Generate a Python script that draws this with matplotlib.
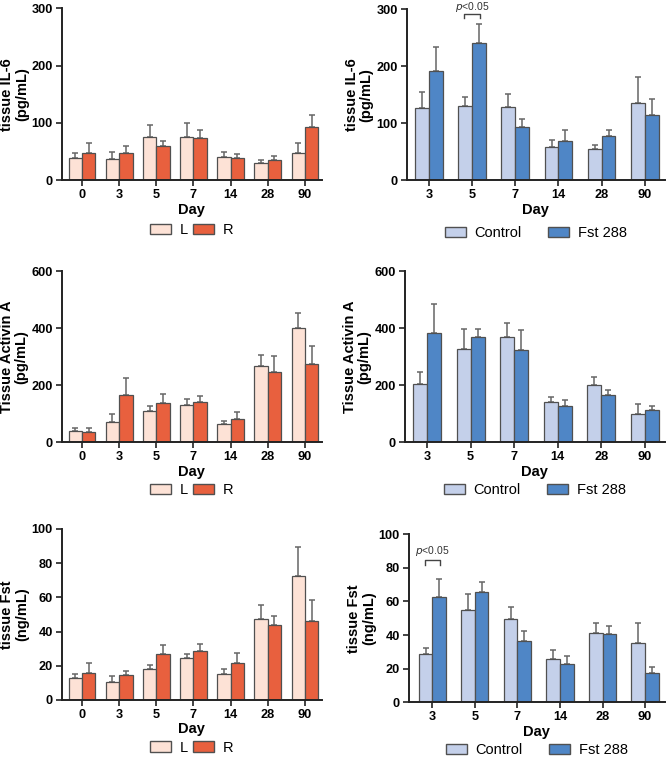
import numpy as np
import matplotlib
matplotlib.use("Agg")
from matplotlib import pyplot as plt
from matplotlib.patches import Patch

plt.rcParams['font.family'] = ['Liberation Sans', 'DejaVu Sans']

days_lr = ['0', '3', '5', '7', '14', '28', '90']
days_cf = ['3', '5', '7', '14', '28', '90']

# tissue IL-6, left/right
il6_l = [38, 37, 76, 75, 41, 30, 48]
il6_l_top = [48, 49, 97, 100, 49, 36, 64]
il6_r = [47, 47, 59, 73, 38, 35, 93]
il6_r_top = [64, 60, 68, 87, 45, 42, 113]

# tissue IL-6, control/Fst 288
il6_c = [126, 130, 129, 58, 55, 136]
il6_c_top = [155, 145, 151, 70, 62, 181]
il6_f = [192, 241, 94, 68, 78, 115]
il6_f_top = [233, 274, 108, 88, 88, 143]

# tissue activin A, left/right
act_l = [40, 73, 111, 130, 63, 268, 401]
act_l_top = [49, 100, 128, 152, 76, 305, 453]
act_r = [37, 167, 139, 140, 81, 248, 274]
act_r_top = [52, 225, 170, 161, 105, 303, 337]

# tissue activin A, control/Fst 288
act_c = [205, 327, 369, 140, 200, 100]
act_c_top = [245, 396, 417, 160, 228, 134]
act_f = [383, 369, 325, 127, 165, 113]
act_f_top = [486, 398, 393, 150, 183, 129]

# tissue Fst, left/right
fst_l = [12.9, 10.7, 18.3, 24.6, 15.0, 47.6, 72.7]
fst_l_top = [15.0, 14.0, 20.5, 27.1, 18.3, 55.6, 89.7]
fst_r = [15.6, 14.8, 26.7, 28.5, 21.4, 44.0, 46.4]
fst_r_top = [21.8, 16.8, 32.0, 32.7, 27.3, 49.3, 58.5]

# tissue Fst, control/Fst 288
fst_c = [28.8, 54.7, 49.3, 25.8, 41.0, 35.2]
fst_c_top = [32.0, 64.6, 56.9, 31.4, 47.3, 46.9]
fst_f = [62.8, 65.6, 36.6, 22.9, 40.6, 17.3]
fst_f_top = [73.6, 71.4, 42.5, 27.4, 45.3, 20.9]

col_l, col_r = '#fde2d6', '#e8603e'
col_c, col_f = '#c4d0ea', '#4f86c6'
edge = '#505050'


def panel(rect, days, a, a_top, b, b_top, colors, names, ylabel, ymax, step,
          width, xlim, legend_gap, legend_y):
    ax = fig.add_axes(rect)
    x = np.arange(len(days))
    for vals, tops, offs, c in [(a, a_top, -width / 2, colors[0]),
                                (b, b_top, width / 2, colors[1])]:
        vals = np.array(vals)
        err = np.array(tops) - vals
        ax.bar(x + offs, vals, width, color=c, edgecolor=edge, linewidth=0.9,
               zorder=2)
        ax.errorbar(x + offs, vals, yerr=[np.zeros_like(err), err], fmt='none',
                    ecolor='#666666', elinewidth=1.1, capsize=2.5,
                    capthick=1.1, zorder=1)
    ax.set_xlim(*xlim)
    ax.set_ylim(0, ymax)
    ax.set_yticks(np.arange(0, ymax + 1, step))
    ax.set_xticks(x)
    ax.set_xticklabels(days)
    for s in ['top', 'right']:
        ax.spines[s].set_visible(False)
    for s in ['left', 'bottom']:
        ax.spines[s].set_linewidth(1.4)
        ax.spines[s].set_color('#222222')
    ax.tick_params(axis='both', direction='out', length=4, width=1.2,
                   labelsize=9.2, color='#222222', pad=2.5)
    for t in ax.get_xticklabels() + ax.get_yticklabels():
        t.set_fontweight('bold')
    ax.set_xlabel('Day', fontsize=10.5, fontweight='bold', labelpad=1)
    ax.set_ylabel(ylabel, fontsize=10.5, fontweight='bold', labelpad=2,
                  linespacing=1.05)
    handles = [Patch(facecolor=colors[0], edgecolor=edge),
               Patch(facecolor=colors[1], edgecolor=edge)]
    ax.legend(handles, names, loc='center', bbox_to_anchor=(0.5, legend_y),
              ncol=2, frameon=False, fontsize=10.5, handlelength=1.45,
              handleheight=0.75, handletextpad=0.6, columnspacing=legend_gap)
    return ax


fig = plt.figure(figsize=(6.66, 7.6), dpi=100)

lr_xlim = (-0.54, 6.45)
ax1 = panel([0.093, 0.763, 0.390, 0.226], days_lr, il6_l, il6_l_top, il6_r,
            il6_r_top, (col_l, col_r), ['L', 'R'], 'tissue IL-6\n(pg/mL)',
            300, 100, 0.36, lr_xlim, 0.3, -0.29)
ax2 = panel([0.611, 0.763, 0.387, 0.225], days_cf, il6_c, il6_c_top, il6_f,
            il6_f_top, (col_c, col_f), ['Control', 'Fst 288'],
            'tissue IL-6\n(pg/mL)', 300, 100, 0.32, (-0.51, 5.46), 1.8, -0.31)
ax3 = panel([0.093, 0.418, 0.390, 0.225], days_lr, act_l, act_l_top, act_r,
            act_r_top, (col_l, col_r), ['L', 'R'],
            'Tissue Activin A\n(pg/mL)', 600, 200, 0.36, lr_xlim, 0.3, -0.28)
ax4 = panel([0.608, 0.418, 0.390, 0.225], days_cf, act_c, act_c_top, act_f,
            act_f_top, (col_c, col_f), ['Control', 'Fst 288'],
            'Tissue Activin A\n(pg/mL)', 600, 200, 0.32, (-0.51, 5.46), 1.8,
            -0.28)
ax5 = panel([0.093, 0.079, 0.390, 0.225], days_lr, fst_l, fst_l_top, fst_r,
            fst_r_top, (col_l, col_r), ['L', 'R'], 'tissue Fst\n(ng/mL)',
            100, 20, 0.36, lr_xlim, 0.3, -0.28)
ax6 = panel([0.614, 0.076, 0.384, 0.221], days_cf, fst_c, fst_c_top, fst_f,
            fst_f_top, (col_c, col_f), ['Control', 'Fst 288'],
            'tissue Fst\n(ng/mL)', 100, 20, 0.32, (-0.55, 5.46), 1.8, -0.285)


def bracket(ax, xc, w, y0, y1, ytext):
    ax.plot([xc - w / 2, xc - w / 2, xc + w / 2, xc + w / 2],
            [y0, y1, y1, y0], color='#444444', lw=1.0, clip_on=False)
    ax.text(xc, ytext, '$\\it{p}$<0.05', ha='center', va='baseline',
            fontsize=7.5, color='#333333', clip_on=False)


bracket(ax2, 1, 0.36, 284, 291, 299)
bracket(ax6, 0, 0.36, 81.5, 84.5, 88)

fig.savefig('out.png', dpi=100)
